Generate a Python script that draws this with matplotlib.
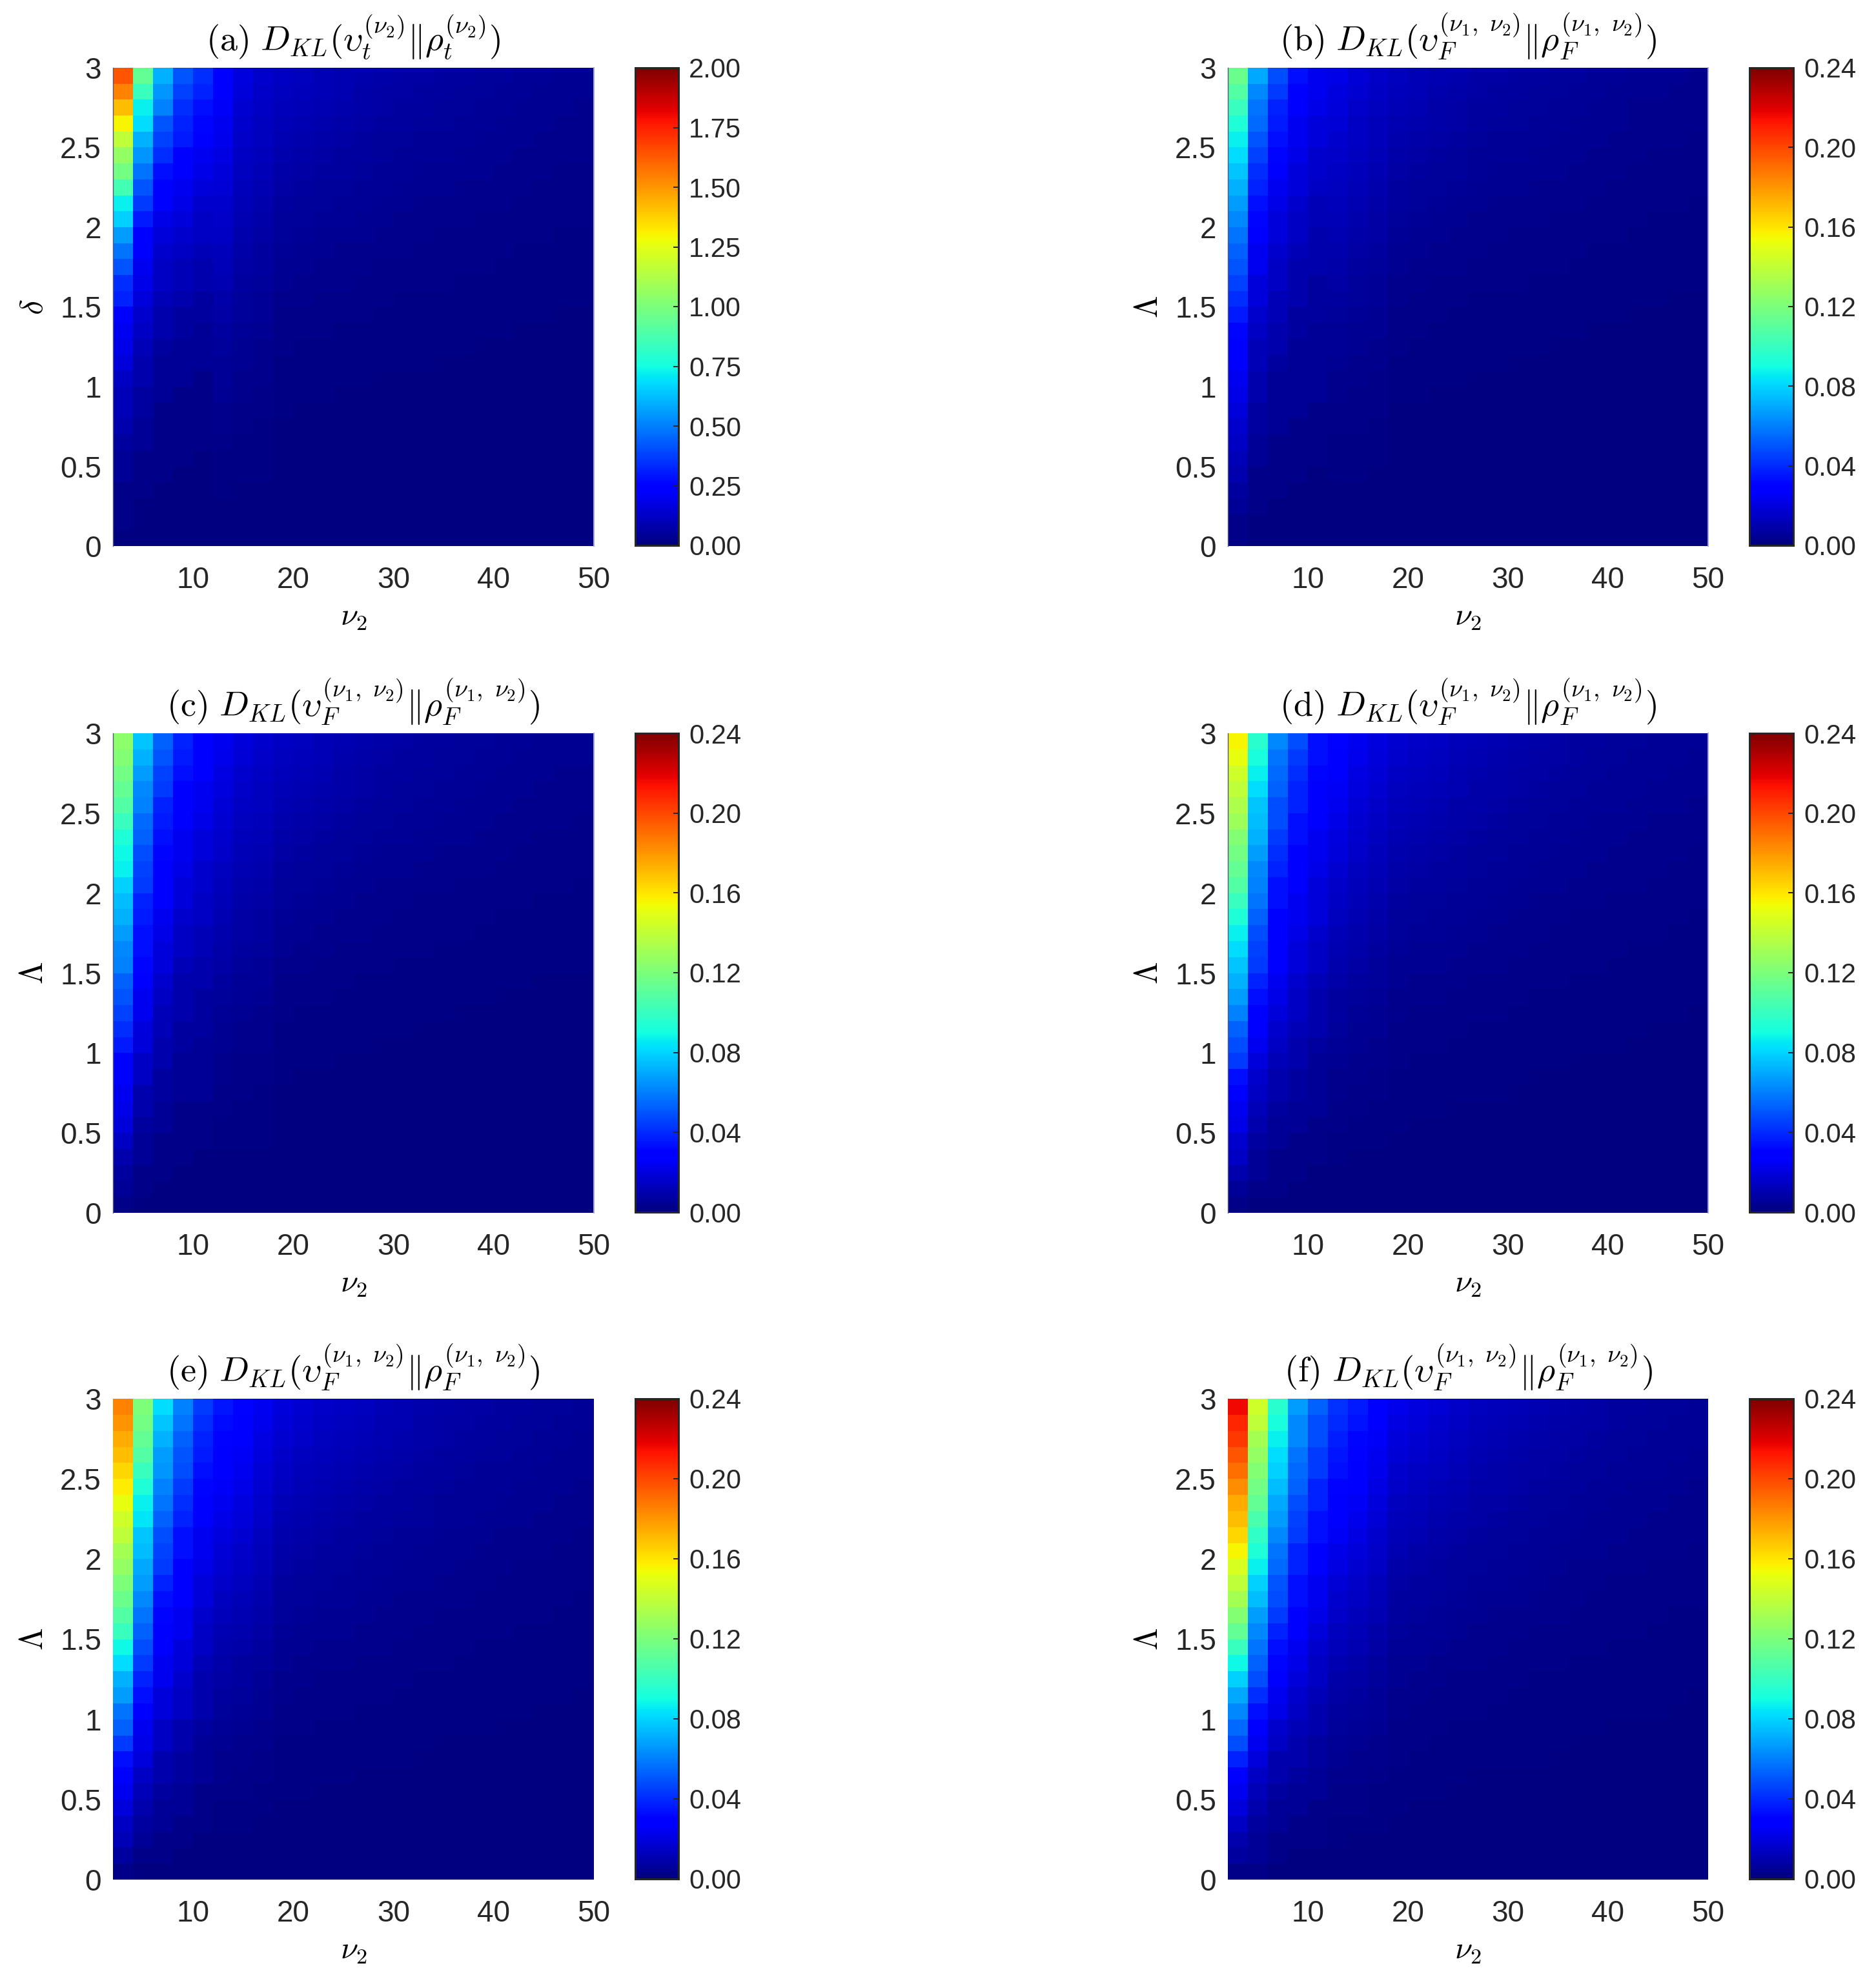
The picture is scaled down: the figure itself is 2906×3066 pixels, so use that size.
import matplotlib
matplotlib.use("Agg")
import matplotlib.pyplot as plt
import numpy as np

plt.rcParams["font.family"] = ["Liberation Sans", "DejaVu Sans"]
plt.rcParams["mathtext.fontset"] = "cm"

W, H = 2906, 3066
DARK = "#262626"

# grid of the six panels
NU2_EDGES = np.arange(2, 51, 2)
PARAM_EDGES = np.arange(0, 31) / 10
X_TICKS = [10, 20, 30, 40, 50]
Y_TICKS = [0, 0.5, 1, 1.5, 2, 2.5, 3]
Y_TICK_LABELS = ["0", "0.5", "1", "1.5", "2", "2.5", "3"]
CB_TICKS_A = [0, 0.25, 0.5, 0.75, 1, 1.25, 1.5, 1.75, 2]
CB_TICKS_F = [0, 0.04, 0.08, 0.12, 0.16, 0.2, 0.24]
VMAX_A = 2.0
VMAX_F = 0.24

T_F = r"D_{KL}(\upsilon_F^{(\nu_1,\ \nu_2)}\|\rho_F^{(\nu_1,\ \nu_2)})"
T_T = r"D_{KL}(\upsilon_t^{(\nu_2)}\|\rho_t^{(\nu_2)})"

# rows run from top (3) to bottom (0)
# HEAD: columns 1-5 by row, percent of the colorbar top
# MID: columns 6-8, one list per column, per mille of the colorbar top
# TAIL: columns 9-24 by row, per mille of the colorbar top
HEAD_A = [
    [82,47,30,21,17],[77,42,27,19,16],[71,36,25,17,14],[65,34,21,16,13],
    [58,30,19,15,12],[53,27,17,12,10],[49,24,14,11,9],[43,21,12,10,8],
    [36,18,11,9,7],[33,15,9,8,6],[28,12,8,7,6],[24,11,7,6,5],
    [21,10,6,5,4],[17,9,6,5,4],[16,8,5,4,3],[12,7,4,3,3],
    [10,6,4,3,2],[9,5,3,2,2],[8,4,2,2,2],[6,4,2,2,1],
    [5,3,2,1,1],[5,3,1,1,1],[4,2,1,1,1],[3,2,1,1,1],
    [2,1,1,1,0],[2,1,1,0,0],[1,1,0,0,0],[1,0,0,0,0],
    [1,0,0,0,0],[0,0,0,0,0],
]
MID_A = [
    [120,113,106,100,94,88,82,76,70,64,59,53,48,43,38,35,30,26,23,20,17,14,12,10,7,6,4,2,1,0],
    [84,79,74,70,66,61,57,53,49,45,41,37,34,30,27,24,21,18,16,14,12,10,8,7,5,4,3,2,1,0],
    [70,66,62,58,55,51,48,44,41,37,34,31,28,25,22,20,18,15,13,12,10,8,7,6,4,4,2,1,1,0],
]
TAIL_A = [
    [62,55,50,46,42,38,35,32,30,28,26,24,22,20,19,18],
    [58,51,47,43,39,35,33,30,28,26,24,22,20,19,18,17],
    [53,47,43,40,36,33,30,28,26,24,22,21,19,17,16,15],
    [49,43,40,36,33,30,28,25,24,22,21,19,17,16,15,14],
    [45,40,36,33,30,27,25,23,22,20,19,17,16,14,14,13],
    [41,36,33,30,28,25,23,21,20,18,17,16,15,13,13,12],
    [37,33,30,28,25,23,21,19,18,17,16,14,13,12,11,11],
    [33,30,27,25,23,21,19,17,16,15,14,13,12,11,10,10],
    [30,26,24,22,20,18,17,15,14,13,12,12,11,10,9,9],
    [27,24,22,20,18,16,15,14,13,12,11,10,9,9,8,8],
    [24,21,19,17,16,14,13,12,11,11,10,9,8,8,7,7],
    [20,18,17,15,14,13,12,11,10,9,9,8,7,7,6,6],
    [18,16,15,13,12,11,10,9,9,8,8,7,6,6,6,5],
    [16,14,13,12,11,10,9,8,8,7,7,6,6,5,5,5],
    [13,12,11,10,9,8,7,7,6,6,5,5,5,4,4,4],
    [11,10,9,8,8,7,6,6,5,5,5,4,4,4,3,3],
    [9,8,8,7,6,6,5,5,5,4,4,4,3,3,3,3],
    [8,7,7,6,5,5,5,4,4,4,3,3,3,3,2,2],
    [7,6,6,5,5,4,4,4,3,3,3,3,2,2,2,2],
    [6,5,5,4,4,3,3,3,3,3,2,2,2,2,2,2],
    [4,4,4,3,3,3,2,2,2,2,2,2,2,1,1,1],
    [4,3,3,3,3,2,2,2,2,2,2,1,1,1,1,1],
    [3,3,3,2,2,2,2,2,2,1,1,1,1,1,1,1],
    [2,2,2,2,2,2,1,1,1,1,1,1,1,1,1,1],
    [2,2,2,1,1,1,1,1,1,1,1,1,1,1,1,1],
    [1,1,1,1,1,1,1,1,1,1,1,0,0,0,0,0],
    [1,1,1,1,1,1,0,0,0,0,0,0,0,0,0,0],
    [1,1,0,0,0,0,0,0,0,0,0,0,0,0,0,0],
    [0,0,0,0,0,0,0,0,0,0,0,0,0,0,0,0],
    [0,0,0,0,0,0,0,0,0,0,0,0,0,0,0,0],
]
HEAD_B = [
    [48,29,20,14,10],[45,26,18,12,10],[42,24,16,11,9],[39,23,15,10,8],
    [36,21,14,10,8],[34,19,13,9,7],[32,17,12,8,7],[30,16,10,8,6],
    [28,14,9,7,5],[26,13,8,6,5],[24,12,8,6,4],[22,10,7,5,4],
    [21,10,6,4,4],[19,8,6,4,3],[17,8,5,4,3],[15,7,5,3,3],
    [13,6,4,3,2],[12,5,4,2,2],[11,5,3,2,2],[10,4,2,2,2],
    [9,4,2,2,2],[8,3,2,2,1],[7,3,2,1,1],[6,2,1,1,1],
    [5,2,1,1,1],[4,1,1,1,0],[3,1,1,0,0],[2,1,0,0,0],
    [1,0,0,0,0],[1,0,0,0,0],
]
MID_B = [
    [90,85,79,75,70,66,61,57,52,48,44,40,36,32,29,26,23,20,17,15,13,11,9,7,5,5,3,2,1,0],
    [75,71,66,62,59,55,51,47,44,40,37,33,30,27,24,22,19,17,14,13,11,9,8,6,5,4,2,2,1,0],
    [65,61,57,54,51,47,44,41,38,34,32,29,26,23,21,19,16,14,12,11,9,8,7,5,4,3,2,1,1,0],
]
TAIL_B = [
    [58,50,45,40,35,32,30,28,26,24,22,20,18,17,16,15],
    [54,47,42,37,33,30,28,26,24,22,20,19,17,16,15,14],
    [50,43,39,34,30,28,26,24,22,21,19,17,15,15,14,13],
    [46,40,36,32,28,25,24,22,21,19,17,16,14,13,13,12],
    [42,36,32,29,25,23,22,20,19,17,16,14,13,12,12,11],
    [38,33,30,26,23,21,20,18,17,16,15,13,12,11,11,10],
    [35,30,27,24,21,19,18,17,16,14,13,12,11,10,10,9],
    [31,27,24,22,19,17,16,15,14,13,12,11,10,9,9,8],
    [28,24,22,19,17,15,14,13,12,12,11,10,9,8,8,7],
    [25,22,19,17,15,14,13,12,11,10,9,9,8,7,7,6],
    [22,19,17,15,13,12,11,11,10,9,8,8,7,6,6,6],
    [19,17,15,13,12,11,10,9,9,8,7,7,6,6,5,5],
    [17,15,13,12,10,9,9,8,8,7,6,6,5,5,5,4],
    [15,13,11,10,9,8,8,7,7,6,6,5,5,4,4,4],
    [12,11,9,8,7,7,6,6,5,5,5,4,4,4,3,3],
    [10,9,8,7,6,6,5,5,5,4,4,4,3,3,3,3],
    [9,8,7,6,5,5,5,4,4,4,3,3,3,3,2,2],
    [8,7,6,5,5,4,4,4,3,3,3,3,2,2,2,2],
    [6,6,5,4,4,4,3,3,3,3,2,2,2,2,2,2],
    [5,5,4,4,3,3,3,3,2,2,2,2,2,2,1,1],
    [4,4,3,3,2,2,2,2,2,2,2,1,1,1,1,1],
    [3,3,3,2,2,2,2,2,2,1,1,1,1,1,1,1],
    [3,3,2,2,2,2,2,1,1,1,1,1,1,1,1,1],
    [2,2,2,2,1,1,1,1,1,1,1,1,1,1,1,1],
    [2,2,1,1,1,1,1,1,1,1,1,1,1,1,0,0],
    [1,1,1,1,1,1,1,1,1,0,0,0,0,0,0,0],
    [1,1,1,1,1,0,0,0,0,0,0,0,0,0,0,0],
    [1,1,0,0,0,0,0,0,0,0,0,0,0,0,0,0],
    [0,0,0,0,0,0,0,0,0,0,0,0,0,0,0,0],
    [0,0,0,0,0,0,0,0,0,0,0,0,0,0,0,0],
]
HEAD_C = [
    [52,32,22,16,12],[51,30,21,15,12],[49,28,19,14,11],[47,26,18,12,10],
    [45,25,16,12,10],[42,23,15,11,9],[39,22,14,10,8],[37,20,13,10,8],
    [36,19,12,9,7],[33,18,12,8,7],[31,16,11,8,6],[30,15,10,7,6],
    [28,14,9,6,5],[26,14,8,6,5],[25,13,8,5,4],[22,12,7,4,4],
    [21,10,6,4,3],[19,10,5,4,3],[17,8,5,3,3],[15,8,4,3,2],
    [12,6,4,2,2],[12,6,3,2,2],[10,4,3,2,2],[9,4,2,1,1],
    [8,3,2,1,1],[6,2,1,1,1],[4,2,1,1,0],[3,1,1,0,0],
    [2,1,0,0,0],[1,0,0,0,0],
]
MID_C = [
    [100,94,88,83,78,73,68,63,58,53,49,44,40,36,32,29,25,22,19,17,14,12,10,8,6,5,3,2,1,0],
    [80,75,70,66,62,58,54,50,46,42,39,35,32,29,26,23,20,18,15,14,11,10,8,6,5,4,2,2,1,0],
    [70,66,62,58,55,51,48,44,41,37,34,31,28,25,22,20,18,15,13,12,10,8,7,6,4,4,2,1,1,0],
]
TAIL_C = [
    [62,56,50,45,40,36,33,30,28,26,24,22,20,19,18,17],
    [58,52,47,42,37,33,31,28,26,24,22,20,19,18,17,16],
    [53,48,43,39,34,31,28,26,24,22,21,19,17,16,15,15],
    [49,44,40,36,32,28,26,24,22,21,19,17,16,15,14,13],
    [45,40,36,32,29,26,24,22,20,19,17,16,14,14,13,12],
    [41,37,33,30,26,24,22,20,18,17,16,15,13,13,12,11],
    [37,34,30,27,24,22,20,18,17,16,14,13,12,11,11,10],
    [33,30,27,24,22,19,18,16,15,14,13,12,11,10,10,9],
    [30,27,24,22,19,17,16,14,13,12,12,11,10,9,9,8],
    [27,24,22,19,17,15,14,13,12,11,10,9,9,8,8,7],
    [24,21,19,17,15,14,13,11,11,10,9,8,8,7,7,6],
    [20,18,17,15,13,12,11,10,9,9,8,7,7,6,6,6],
    [18,16,15,13,12,10,10,9,8,8,7,6,6,6,5,5],
    [16,14,13,11,10,9,8,8,7,7,6,6,5,5,5,4],
    [13,12,11,9,8,8,7,6,6,5,5,5,4,4,4,4],
    [11,10,9,8,7,6,6,5,5,5,4,4,4,3,3,3],
    [9,8,8,7,6,5,5,5,4,4,4,3,3,3,3,3],
    [8,7,7,6,5,5,4,4,4,3,3,3,3,2,2,2],
    [7,6,6,5,4,4,4,3,3,3,3,2,2,2,2,2],
    [6,5,5,4,4,3,3,3,3,2,2,2,2,2,2,2],
    [4,4,4,3,3,3,2,2,2,2,2,2,1,1,1,1],
    [4,3,3,3,2,2,2,2,2,2,1,1,1,1,1,1],
    [3,3,3,2,2,2,2,2,1,1,1,1,1,1,1,1],
    [2,2,2,2,2,1,1,1,1,1,1,1,1,1,1,1],
    [2,2,2,1,1,1,1,1,1,1,1,1,1,1,1,1],
    [1,1,1,1,1,1,1,1,1,1,0,0,0,0,0,0],
    [1,1,1,1,1,0,0,0,0,0,0,0,0,0,0,0],
    [1,1,0,0,0,0,0,0,0,0,0,0,0,0,0,0],
    [0,0,0,0,0,0,0,0,0,0,0,0,0,0,0,0],
    [0,0,0,0,0,0,0,0,0,0,0,0,0,0,0,0],
]
HEAD_D = [
    [65,40,26,20,14],[63,38,24,18,14],[60,36,23,17,13],[58,34,22,16,12],
    [56,32,20,16,12],[54,31,20,14,12],[51,30,18,14,10],[49,28,17,12,10],
    [47,26,16,12,9],[45,25,14,11,8],[42,24,14,10,8],[39,22,12,10,8],
    [36,20,12,9,7],[34,19,12,8,6],[32,18,11,8,6],[30,16,10,7,5],
    [28,14,9,6,4],[25,12,8,6,4],[22,11,7,5,4],[20,10,6,4,3],
    [18,8,5,4,2],[14,7,4,3,2],[12,6,4,3,2],[10,5,3,2,2],
    [9,4,2,2,1],[7,3,2,1,1],[6,2,1,1,1],[4,2,1,1,0],
    [2,1,1,0,0],[1,0,0,0,0],
]
MID_D = [
    [125,118,110,104,98,91,85,79,73,66,61,55,50,45,40,36,31,28,24,21,18,15,13,10,8,6,4,3,1,0],
    [100,94,88,83,78,73,68,63,58,53,49,44,40,36,32,29,25,22,19,17,14,12,10,8,6,5,3,2,1,0],
    [85,80,75,71,66,62,58,54,49,45,42,37,34,31,27,25,21,19,16,14,12,10,9,7,5,4,3,2,1,0],
]
TAIL_D = [
    [72,66,60,54,49,45,41,37,34,31,29,27,25,23,22,20],
    [67,61,56,50,46,42,38,34,32,29,27,25,23,21,20,19],
    [62,57,52,46,42,39,35,32,29,27,25,23,22,20,19,17],
    [57,52,47,43,39,36,32,29,27,24,23,21,20,18,17,16],
    [53,48,44,39,36,33,30,27,25,23,21,20,18,17,16,15],
    [48,44,40,36,33,30,27,25,23,21,19,18,17,15,15,13],
    [44,40,37,33,30,27,25,23,21,19,18,16,15,14,13,12],
    [40,37,34,30,27,25,23,21,19,17,16,15,14,13,12,11],
    [37,34,31,28,25,23,21,19,17,16,15,14,13,12,11,10],
    [33,30,28,25,23,21,19,17,16,14,13,12,12,11,10,9],
    [30,27,25,22,20,18,17,15,14,13,12,11,10,9,9,8],
    [27,24,22,20,18,17,15,14,13,11,11,10,9,9,8,7],
    [24,22,20,18,16,15,14,12,11,10,10,9,8,8,7,7],
    [21,19,17,16,14,13,12,11,10,9,8,8,7,7,6,6],
    [19,17,16,14,13,12,11,10,9,8,8,7,7,6,6,5],
    [17,15,14,12,11,10,9,9,8,7,7,6,6,5,5,5],
    [14,13,12,11,10,9,8,7,7,6,6,5,5,5,4,4],
    [12,11,10,9,8,8,7,6,6,5,5,5,4,4,4,3],
    [11,10,9,8,7,7,6,6,5,5,4,4,4,3,3,3],
    [9,9,8,7,6,6,5,5,4,4,4,4,3,3,3,3],
    [8,7,7,6,5,5,5,4,4,3,3,3,3,3,2,2],
    [6,6,5,5,4,4,4,3,3,3,3,2,2,2,2,2],
    [6,5,5,4,4,4,3,3,3,2,2,2,2,2,2,2],
    [4,4,4,3,3,3,2,2,2,2,2,2,2,1,1,1],
    [4,3,3,3,2,2,2,2,2,2,1,1,1,1,1,1],
    [3,3,2,2,2,2,2,1,1,1,1,1,1,1,1,1],
    [2,2,2,2,1,1,1,1,1,1,1,1,1,1,1,1],
    [1,1,1,1,1,1,1,1,1,1,1,1,0,0,0,0],
    [1,1,1,1,0,0,0,0,0,0,0,0,0,0,0,0],
    [0,0,0,0,0,0,0,0,0,0,0,0,0,0,0,0],
]
HEAD_E = [
    [77,50,34,25,18],[75,49,32,24,17],[73,47,30,22,16],[71,45,28,21,15],
    [68,42,27,20,14],[66,39,25,18,13],[63,36,24,17,12],[60,35,22,16,12],
    [58,32,20,14,10],[55,31,19,14,10],[53,29,18,12,9],[50,28,16,12,8],
    [48,26,14,12,8],[45,24,13,10,7],[42,22,12,10,6],[37,20,12,8,6],
    [34,18,10,8,5],[30,16,10,7,4],[28,14,8,6,4],[24,12,8,6,4],
    [22,10,6,4,3],[18,9,6,4,2],[14,8,4,3,2],[12,6,4,3,2],
    [10,5,3,2,1],[8,4,2,2,1],[6,3,2,1,1],[5,2,1,1,0],
    [3,1,1,0,0],[1,0,0,0,0],
]
MID_E = [
    [145,136,128,120,113,106,99,91,84,77,71,64,58,52,46,42,36,32,28,25,20,17,15,12,9,7,4,3,1,0],
    [125,118,110,104,98,91,85,79,73,66,61,55,50,45,40,36,31,28,24,21,18,15,13,10,8,6,4,3,1,0],
    [100,94,88,83,78,73,68,63,58,53,49,44,40,36,32,29,25,22,19,17,14,12,10,8,6,5,3,2,1,0],
]
TAIL_E = [
    [82,74,66,60,55,50,46,42,38,35,32,30,28,26,24,22],
    [76,69,61,56,51,46,43,39,35,33,30,28,26,24,22,20],
    [71,64,57,52,47,43,40,36,33,30,28,26,24,22,21,19],
    [65,58,52,47,43,40,36,33,30,28,25,24,22,21,19,17],
    [60,54,48,44,40,36,34,31,28,26,23,22,20,19,18,16],
    [55,50,44,40,37,34,31,28,25,23,21,20,19,17,16,15],
    [50,45,40,37,34,31,28,26,23,21,20,18,17,16,15,13],
    [46,41,37,34,31,28,26,24,21,20,18,17,16,15,13,12],
    [42,38,34,31,28,26,23,21,19,18,16,15,14,13,12,11],
    [38,34,30,28,25,23,21,19,17,16,15,14,13,12,11,10],
    [34,30,27,25,23,21,19,17,16,14,13,12,11,11,10,9],
    [30,27,24,22,20,19,17,16,14,13,12,11,10,10,9,8],
    [27,24,22,20,18,17,15,14,13,12,11,10,9,9,8,7],
    [24,21,19,17,16,15,13,12,11,10,9,9,8,8,7,6],
    [21,19,17,16,14,13,12,11,10,9,8,8,7,7,6,6],
    [19,17,15,14,13,12,11,10,9,8,7,7,6,6,6,5],
    [16,15,13,12,11,10,9,8,8,7,6,6,6,5,5,4],
    [14,13,11,10,9,9,8,7,6,6,5,5,5,4,4,4],
    [12,11,10,9,8,8,7,6,6,5,5,5,4,4,4,3],
    [11,10,9,8,7,7,6,5,5,5,4,4,4,3,3,3],
    [9,8,7,7,6,6,5,5,4,4,4,3,3,3,3,2],
    [7,7,6,5,5,5,4,4,3,3,3,3,3,2,2,2],
    [7,6,5,5,4,4,4,3,3,3,3,2,2,2,2,2],
    [5,4,4,4,3,3,3,3,2,2,2,2,2,2,1,1],
    [4,4,3,3,3,3,2,2,2,2,2,2,1,1,1,1],
    [3,3,3,2,2,2,2,2,2,1,1,1,1,1,1,1],
    [2,2,2,2,2,2,1,1,1,1,1,1,1,1,1,1],
    [2,1,1,1,1,1,1,1,1,1,1,1,1,1,0,0],
    [1,1,1,1,1,0,0,0,0,0,0,0,0,0,0,0],
    [0,0,0,0,0,0,0,0,0,0,0,0,0,0,0,0],
]
HEAD_F = [
    [90,60,40,28,22],[87,58,38,26,20],[85,55,36,26,20],[82,53,34,24,18],
    [79,51,33,23,18],[76,49,31,22,16],[73,47,29,20,16],[71,44,28,19,14],
    [68,41,26,18,14],[65,39,24,16,12],[61,36,23,16,12],[58,33,21,14,10],
    [55,31,20,14,10],[51,28,18,12,9],[47,26,16,11,8],[42,24,14,10,7],
    [37,22,13,9,6],[33,20,12,8,6],[29,17,10,7,5],[26,14,9,6,4],
    [23,12,7,5,4],[20,10,6,4,3],[16,8,4,4,3],[12,6,4,3,2],
    [10,5,3,2,2],[8,4,2,2,1],[6,3,2,1,1],[4,2,1,1,1],
    [3,2,1,0,0],[1,1,0,0,0],
]
MID_F = [
    [175,165,154,145,137,128,119,110,102,93,86,77,70,63,56,51,44,39,33,30,25,21,18,14,11,9,5,4,2,0],
    [150,141,132,125,117,110,102,95,87,80,74,66,60,54,48,44,38,33,29,26,21,18,15,12,9,8,5,3,2,0],
    [120,113,106,100,94,88,82,76,70,64,59,53,48,43,38,35,30,26,23,20,17,14,12,10,7,6,4,2,1,0],
]
TAIL_F = [
    [95,85,75,65,58,53,48,44,40,37,34,31,29,27,25,23],
    [88,79,70,60,54,49,45,41,37,34,32,29,27,25,23,21],
    [82,73,65,56,50,46,41,38,34,32,29,27,25,23,22,20],
    [75,67,59,51,46,42,38,35,32,29,27,24,23,21,20,18],
    [69,62,55,47,42,39,35,32,29,27,25,23,21,20,18,17],
    [64,57,50,44,39,36,32,29,27,25,23,21,19,18,17,15],
    [58,52,46,40,35,32,29,27,24,23,21,19,18,16,15,14],
    [53,48,42,36,32,30,27,25,22,21,19,17,16,15,14,13],
    [48,43,38,33,30,27,24,22,20,19,17,16,15,14,13,12],
    [44,39,35,30,27,24,22,20,18,17,16,14,13,12,12,11],
    [39,35,31,27,24,22,20,18,16,15,14,13,12,11,10,9],
    [35,31,28,24,21,20,18,16,15,14,13,11,11,10,9,9],
    [31,28,25,21,19,17,16,15,13,12,11,10,10,9,8,8],
    [28,25,22,19,17,15,14,13,12,11,10,9,8,8,7,7],
    [25,22,20,17,15,14,12,11,10,10,9,8,8,7,7,6],
    [22,20,17,15,13,12,11,10,9,9,8,7,7,6,6,5],
    [19,17,15,13,12,11,10,9,8,7,7,6,6,5,5,5],
    [16,14,13,11,10,9,8,7,7,6,6,5,5,5,4,4],
    [14,13,11,10,9,8,7,7,6,6,5,5,4,4,4,3],
    [12,11,10,8,8,7,6,6,5,5,4,4,4,4,3,3],
    [10,9,8,7,6,6,5,5,4,4,4,3,3,3,3,3],
    [9,8,7,6,5,5,4,4,4,3,3,3,3,2,2,2],
    [8,7,6,5,5,4,4,4,3,3,3,2,2,2,2,2],
    [6,5,5,4,3,3,3,3,2,2,2,2,2,2,2,1],
    [5,4,4,3,3,3,2,2,2,2,2,2,1,1,1,1],
    [4,3,3,3,2,2,2,2,2,1,1,1,1,1,1,1],
    [3,3,2,2,2,2,1,1,1,1,1,1,1,1,1,1],
    [2,2,2,1,1,1,1,1,1,1,1,1,1,1,0,0],
    [1,1,1,1,1,1,0,0,0,0,0,0,0,0,0,0],
    [0,0,0,0,0,0,0,0,0,0,0,0,0,0,0,0],
]

PANELS = [
    ("(a)", T_T, r"\delta", HEAD_A, MID_A, TAIL_A, VMAX_A, CB_TICKS_A),
    ("(b)", T_F, r"\Lambda", HEAD_B, MID_B, TAIL_B, VMAX_F, CB_TICKS_F),
    ("(c)", T_F, r"\Lambda", HEAD_C, MID_C, TAIL_C, VMAX_F, CB_TICKS_F),
    ("(d)", T_F, r"\Lambda", HEAD_D, MID_D, TAIL_D, VMAX_F, CB_TICKS_F),
    ("(e)", T_F, r"\Lambda", HEAD_E, MID_E, TAIL_E, VMAX_F, CB_TICKS_F),
    ("(f)", T_F, r"\Lambda", HEAD_F, MID_F, TAIL_F, VMAX_F, CB_TICKS_F),
]

# pixel boxes
ROW_BOXES = [(105, 846), (1136, 1879), (2167, 2912)]
COL_BOXES = [(175, 920, 983.5, 1050.5), (1902, 2646, 2709.5, 2777.5)]


def px_axes(fig, left, right, top, bottom):
    return fig.add_axes([left / W, 1 - bottom / H, (right - left) / W, (bottom - top) / H])


fig = plt.figure(figsize=(W / 200, H / 200), dpi=200)

for i, (tag, expr, ylab, head, mid, tail, vmax, cb_ticks) in enumerate(PANELS):
    top, bottom = ROW_BOXES[i // 2]
    left, right, cb_left, cb_right = COL_BOXES[i % 2]

    ax = px_axes(fig, left, right, top, bottom)
    pct = np.hstack([
        np.array(head, dtype=float),
        np.array(mid, dtype=float).T / 10,
        np.array(tail, dtype=float) / 10,
    ])
    z = pct[::-1] * vmax / 100
    mesh = ax.pcolormesh(NU2_EDGES, PARAM_EDGES, z, cmap="jet", vmin=0, vmax=vmax,
                         shading="flat", antialiased=False)
    ax.set_xlim(2, 50)
    ax.set_ylim(0, 3)
    ax.set_xticks(X_TICKS)
    ax.set_yticks(Y_TICKS)
    ax.set_yticklabels(Y_TICK_LABELS)
    ax.tick_params(axis="x", length=0, pad=11, labelsize=16.5, labelcolor=DARK)
    ax.tick_params(axis="y", length=0, pad=6.5, labelsize=16.5, labelcolor=DARK)
    for name in ["top", "right", "bottom", "left"]:
        ax.spines[name].set_visible(False)
    if i < 4:
        # faint edges left over on the upper four panels
        ax.spines["left"].set_visible(True)
        ax.spines["left"].set_color("#555577")
        ax.spines["left"].set_linewidth(0.5)
        ax.spines["right"].set_visible(True)
        ax.spines["right"].set_color("#a8a8e0")
        ax.spines["right"].set_linewidth(0.7)

    ax.set_title(rf"$\mathrm{{{tag}}}\ {expr}$", fontsize=19.5, pad=9.4, color="black")
    ax.set_xlabel(r"$\nu_2$", fontsize=17.5, labelpad=5)
    ax.set_ylabel(rf"${ylab}$", fontsize=18, labelpad=6)

    cax = px_axes(fig, cb_left, cb_right, top, bottom - 1)
    cbar = fig.colorbar(mesh, cax=cax)
    cbar.set_ticks(cb_ticks)
    cbar.ax.set_yticklabels([f"{t:.2f}" for t in cb_ticks])
    cbar.ax.tick_params(direction="in", length=3, width=0.7, color=DARK, pad=6,
                        labelsize=15, labelcolor=DARK)
    cbar.outline.set_edgecolor(DARK)
    cbar.outline.set_linewidth(1.1)

fig.savefig("out.png", dpi=200)
